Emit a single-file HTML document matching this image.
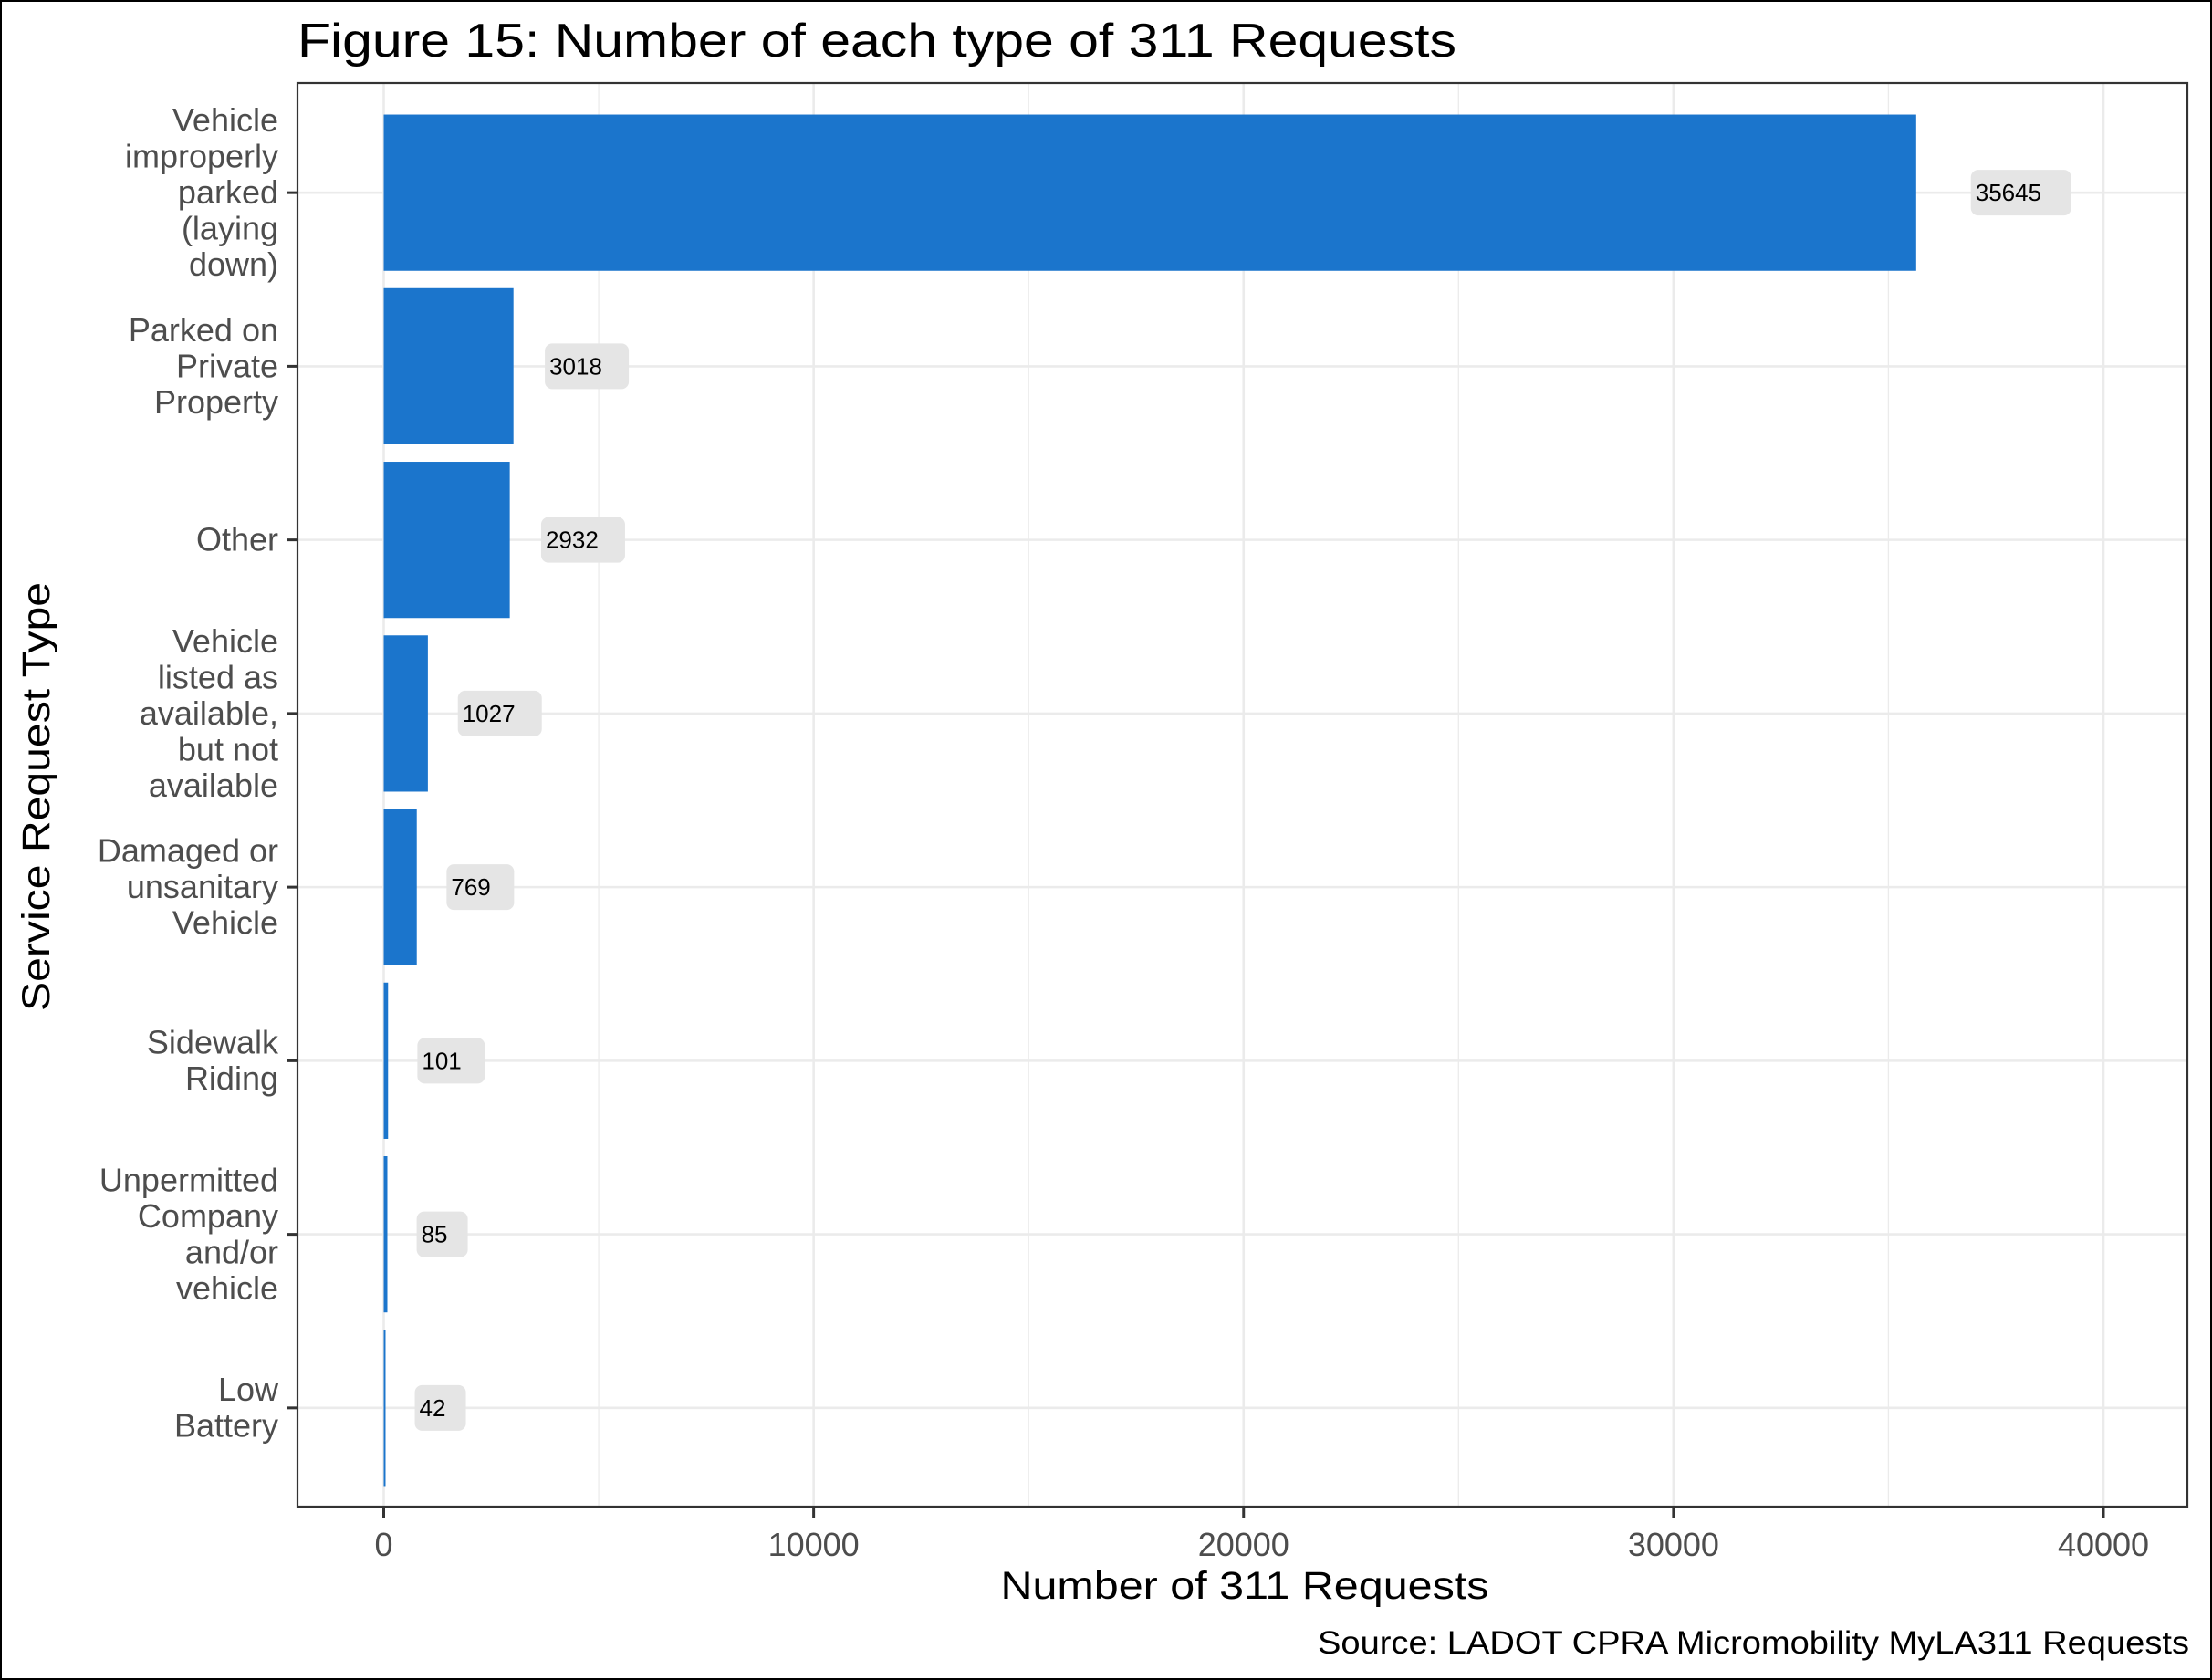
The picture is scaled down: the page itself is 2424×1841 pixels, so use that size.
<!DOCTYPE html>
<html><head><meta charset="utf-8"><style>
html,body{margin:0;padding:0;background:#fff}
svg{display:block;font-family:"Liberation Sans",sans-serif}
</style></head><body>
<svg id="chart" width="2424" height="1841" viewBox="0 0 2424 1841" xmlns="http://www.w3.org/2000/svg">
<rect x="1" y="1" width="2422" height="1839" fill="#fff" stroke="#000" stroke-width="2"/>
<text x="326" y="62" font-size="52" fill="#000" textLength="1270" lengthAdjust="spacingAndGlyphs">Figure 15: Number of each type of 311 Requests</text>
<g id="grid"></g>
<g id="bars"></g>
<g id="labels"></g>
<rect x="326" y="91" width="2071" height="1560" fill="none" stroke="#333" stroke-width="2.2"/>
<g id="axes"></g>
<text x="1364" y="1752" font-size="43" text-anchor="middle" fill="#000" textLength="535" lengthAdjust="spacingAndGlyphs">Number of 311 Requests</text>
<text transform="translate(54,873) rotate(-90)" font-size="43" text-anchor="middle" fill="#000" textLength="470" lengthAdjust="spacingAndGlyphs">Service Request Type</text>
<text x="2399" y="1812" font-size="35" text-anchor="end" fill="#000" textLength="955" lengthAdjust="spacingAndGlyphs">Source: LADOT CPRA Micromobility MyLA311 Requests</text>
</svg>
<script>
const categories = [
  ["Vehicle","improperly","parked","(laying","down)"],
  ["Parked on","Private","Property"],
  ["Other"],
  ["Vehicle","listed as","available,","but not","available"],
  ["Damaged or","unsanitary","Vehicle"],
  ["Sidewalk","Riding"],
  ["Unpermitted","Company","and/or","vehicle"],
  ["Low","Battery"]
];
const values = [35645, 3018, 2932, 1027, 769, 101, 85, 42];
const xTicks = [0, 10000, 20000, 30000, 40000];
const xMinor = [5000, 15000, 25000, 35000];

const NS = "http://www.w3.org/2000/svg";
const panel = {left:326, right:2397, top:91, bottom:1651};
function xScale(v){ return 420.5 + v * (2305 - 420.5) / 40000; }
const step = (panel.bottom - panel.top) / (categories.length + 0.2);
function yScale(i){ return panel.top + 6 + step * (i + 0.6); }
const bandH = step * 0.9;
function mk(tag, attrs, parent){
  const e = document.createElementNS(NS, tag);
  for (const k in attrs) e.setAttribute(k, attrs[k]);
  parent.appendChild(e); return e;
}
const grid = document.getElementById('grid');
const bars = document.getElementById('bars');
const labels = document.getElementById('labels');
const axes = document.getElementById('axes');

xMinor.forEach(v => {
  const l = mk('line', {x1:xScale(v), x2:xScale(v), y1:panel.top, y2:panel.bottom, stroke:'#ebebeb', 'stroke-width':1.3}, grid);
  
  
});
xTicks.forEach(v => {
  const l = mk('line', {x1:xScale(v), x2:xScale(v), y1:panel.top, y2:panel.bottom, stroke:'#ebebeb', 'stroke-width':2.6}, grid);
  
  
  const t = mk('line', {x1:xScale(v), x2:xScale(v), y1:panel.bottom, y2:panel.bottom+12, stroke:'#333', 'stroke-width':3}, axes);
  
  
  const tx = mk('text', {x:xScale(v), y:panel.bottom+54, 'font-size':36, 'text-anchor':'middle', fill:'#4d4d4d'}, axes);
  tx.textContent = v;
  
  
});
categories.forEach((lines, i) => {
  const y = yScale(i);
  const g = mk('line', {x1:panel.left, x2:panel.right, y1:y, y2:y, stroke:'#ebebeb', 'stroke-width':2.6}, grid);
  
  
  const r = mk('rect', {x:xScale(0), y:y-bandH/2, width:Math.max(1,xScale(values[i])-xScale(0)), height:bandH, fill:'#1b75cc'}, bars);
  
  
  const txt = String(values[i]);
  const bx = xScale(values[i] * 1.0166 + 680);
  const bw = 18 * txt.length + 20;
  const lb = mk('rect', {x:bx, y:y-25, width:bw, height:50, rx:8, fill:'#e5e5e5'}, labels);
  
  
  const lt = mk('text', {x:bx+5, y:y+9, 'font-size':26, fill:'#000'}, labels);
  lt.textContent = txt;
  
  
  const tk = mk('line', {x1:panel.left-12, x2:panel.left, y1:y, y2:y, stroke:'#333', 'stroke-width':3}, axes);
  
  
  const lh = 39.5;
  const t = mk('text', {x:305, 'font-size':36, 'text-anchor':'end', fill:'#4d4d4d'}, axes);
  
  
  lines.forEach((s, k) => {
    const sp = mk('tspan', {x:305, y: y + 12 + (k - (lines.length-1)/2) * lh}, t);
    sp.textContent = s;
  });
});
</script>
</body></html>
